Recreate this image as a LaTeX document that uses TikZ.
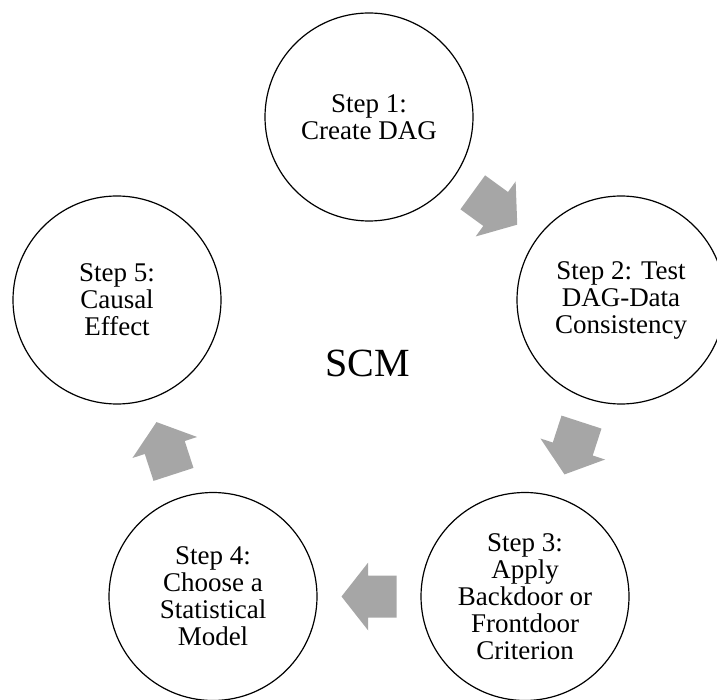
\documentclass[tikz,border=0pt]{standalone}
\usepackage{fontspec}
\setmainfont{Liberation Serif}
\usetikzlibrary{calc}
\definecolor{arrowgray}{RGB}{166,166,166}
\tikzset{
  stepcircle/.style={circle, draw=black, line width=1.2pt, minimum size=208pt,
    inner sep=0pt, align=center, font=\fontsize{27}{27}\selectfont},
  centertitle/.style={font=\fontsize{40}{44}\selectfont, inner sep=0pt},
  blockarrow/.pic={
    \fill[arrowgray] (-27.5,-21) -- (0.8,-21) -- (0.8,-34) -- (27.5,0)
      -- (0.8,34) -- (0.8,21) -- (-27.5,21) -- cycle;
  }
}
\begin{document}
\begin{tikzpicture}[x=1pt, y=-1pt]
\useasboundingbox (0,0) rectangle (717,700);
\clip (0,0) rectangle (717,700);

% five steps on a regular pentagon
\node[stepcircle] (s1) at (369,117)   {Step 1:\\Create DAG};
\node[stepcircle] (s2) at (621,300)   {Step 2: Test\\DAG-Data\\Consistency};
\node[stepcircle] (s3) at (525,596.5) {Step 3:\\Apply\\Backdoor or\\Frontdoor\\Criterion};
\node[stepcircle] (s4) at (213,596.5) {Step 4:\\Choose a\\Statistical\\Model};
\node[stepcircle] (s5) at (117,300)   {Step 5:\\Causal\\Effect};

\node[centertitle] (scm) at (368,363) {SCM};

% block arrows half way between consecutive steps
\pic[rotate=-36]  at ($(s1)!0.5!(s2)$) {blockarrow};
\pic[rotate=-108] at ($(s2)!0.5!(s3)$) {blockarrow};
\pic[rotate=180]  at ($(s3)!0.5!(s4)$) {blockarrow};
\pic[rotate=108]  at ($(s4)!0.5!(s5)$) {blockarrow};
\end{tikzpicture}
\end{document}
